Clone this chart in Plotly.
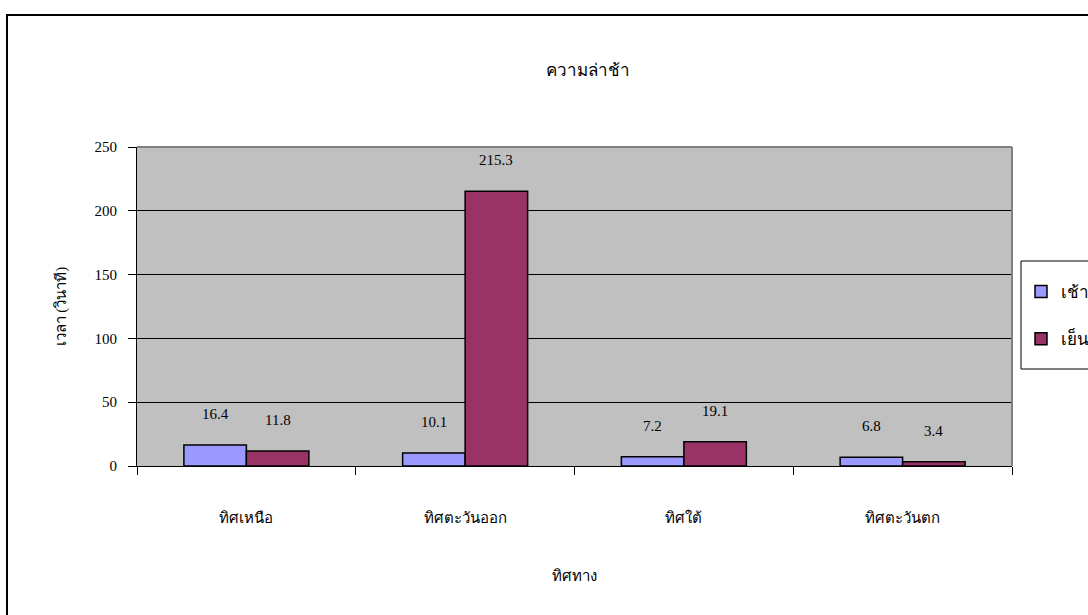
import plotly.graph_objects as go

# Delay by direction, morning vs evening peak (seconds)
directions = ["ทิศเหนือ", "ทิศตะวันออก", "ทิศใต้", "ทิศตะวันตก"]
morning = [16.4, 10.1, 7.2, 6.8]
evening = [11.8, 215.3, 19.1, 3.4]
series_names = ["เช้า", "เย็น"]
series_colors = ["#9999FF", "#993366"]
y_ticks = [0, 50, 100, 150, 200, 250]

W, H = 1088, 615
ML, MR, MT, MB = 137, 76, 147, 149
plot_w = W - ML - MR
plot_h = H - MT - MB
BARGAP = 1.5 / 3.5
cat_w = plot_w / len(directions)
bar_w = cat_w * (1 - BARGAP) / 2

serif = "Liberation Serif, Times New Roman, serif"

fig = go.Figure()
for i, (name, vals, col) in enumerate(zip(series_names, [morning, evening], series_colors)):
    fig.add_trace(go.Bar(
        x=directions, y=vals, name=name, legendgroup=name,
        marker=dict(color=col, line=dict(color="black", width=1.5)),
    ))
    # value labels above each bar
    shift = (i - 0.5) * bar_w
    for d, v in zip(directions, vals):
        fig.add_annotation(
            x=d, y=v, text=f"{v}", showarrow=False, xshift=shift, yshift=31,
            xref="x", yref="y", font=dict(family=serif, size=15, color="black"),
        )


def px_to_paper_x(px):
    return (px - ML) / plot_w


def px_to_paper_y(py):
    return (H - MB - py) / plot_h


shapes = [
    # chart frame
    dict(type="rect", xref="paper", yref="paper",
         x0=px_to_paper_x(7), x1=px_to_paper_x(1110),
         y0=px_to_paper_y(640), y1=px_to_paper_y(15),
         line=dict(color="black", width=2), layer="above"),
    # plot area top and right edges
    dict(type="line", xref="paper", yref="paper", x0=0, x1=1, y0=1, y1=1,
         line=dict(color="#808080", width=2), layer="above"),
    dict(type="line", xref="paper", yref="paper", x0=1, x1=1, y0=0, y1=1,
         line=dict(color="#808080", width=2), layer="above"),
    # legend frame
    dict(type="rect", xref="paper", yref="paper",
         x0=px_to_paper_x(1021), x1=px_to_paper_x(1120),
         y0=px_to_paper_y(369), y1=px_to_paper_y(261),
         line=dict(color="black", width=1), layer="above"),
]

fig.update_layout(
    width=W, height=H,
    margin=dict(l=ML, r=MR, t=MT, b=MB, autoexpand=False),
    paper_bgcolor="white", plot_bgcolor="#C0C0C0",
    barmode="group", bargap=BARGAP, bargroupgap=0,
    font=dict(family=serif, size=15, color="black"),
    title=dict(text="ความล่าช้า", x=588 / W, xanchor="center", xref="container",
               y=1 - 70 / H, yanchor="middle", yref="container",
               font=dict(family=serif, size=17, color="black")),
    xaxis=dict(
        type="category", tickson="boundaries", ticks="outside", ticklen=8,
        tickcolor="black", tickwidth=1, showline=True, linecolor="black", linewidth=1,
        showgrid=False, ticklabelstandoff=38,
        tickfont=dict(family=serif, size=15, color="black"),
        title=dict(text="ทิศทาง", standoff=45,
                   font=dict(family=serif, size=15, color="black")),
    ),
    yaxis=dict(
        range=[0, 250], tickvals=y_ticks, ticks="outside", ticklen=8,
        tickcolor="black", tickwidth=1, showline=True, linecolor="black", linewidth=1,
        showgrid=True, gridcolor="black", gridwidth=1, zeroline=False,
        ticklabelstandoff=8,
        tickfont=dict(family=serif, size=15, color="black"),
        title=dict(text="เวลา (วินาที)", standoff=24,
                   font=dict(family=serif, size=15, color="black")),
    ),
    legend=dict(
        xref="container", yref="container", x=1021 / W, y=1 - 274 / H,
        xanchor="left", yanchor="top", bgcolor="rgba(0,0,0,0)",
        borderwidth=0, tracegroupgap=22,
        font=dict(family=serif, size=17, color="black"),
    ),
    shapes=shapes,
)

fig.write_html("out.html")
